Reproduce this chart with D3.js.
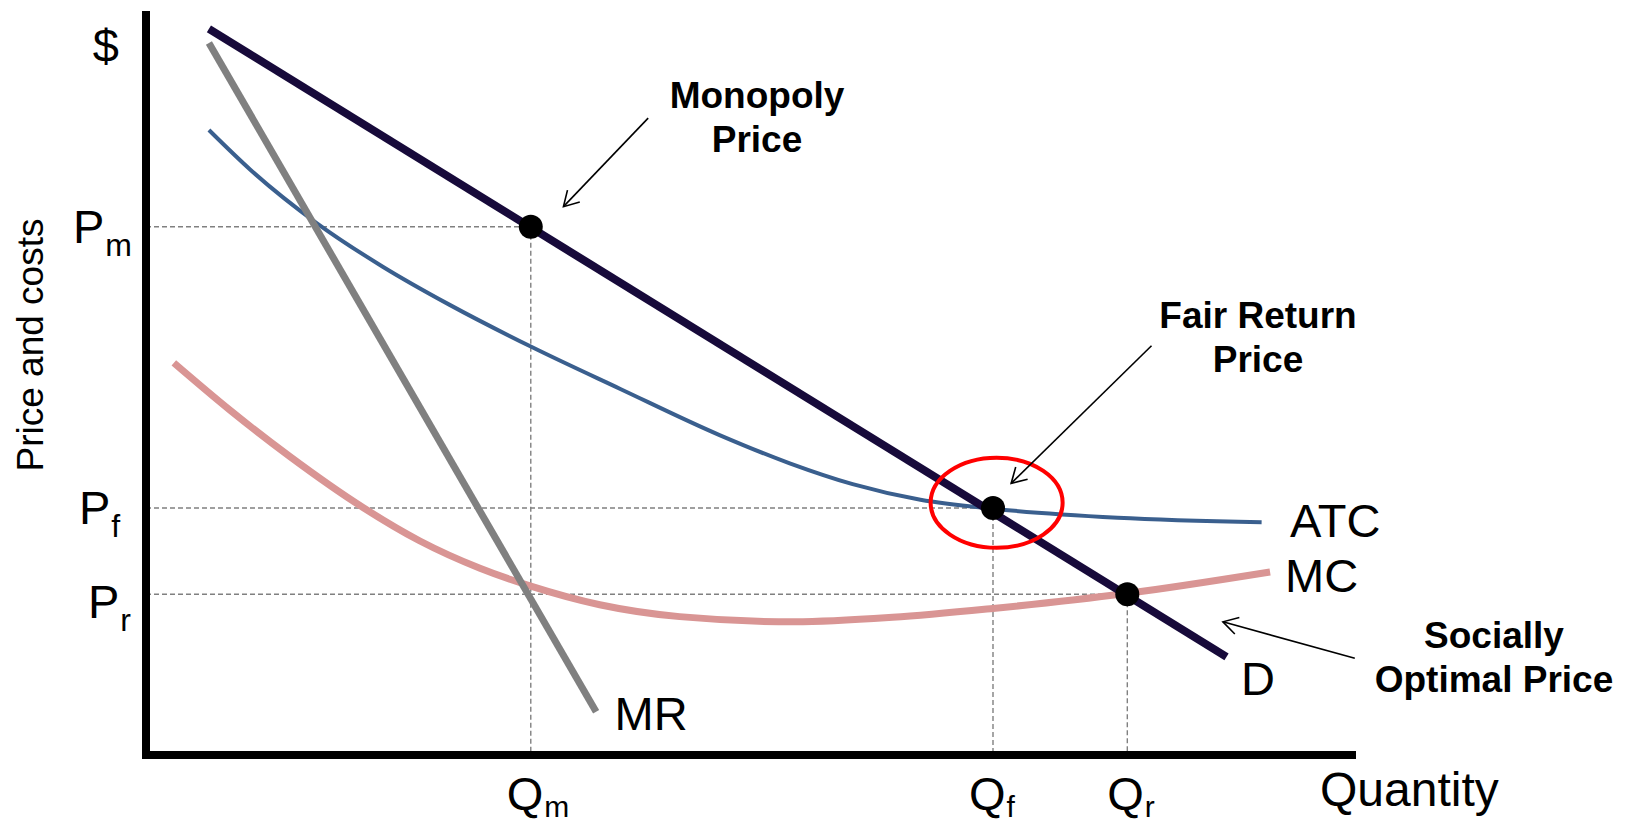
<!DOCTYPE html>
<html>
<head>
<meta charset="utf-8">
<script src="https://cdn.jsdelivr.net/npm/d3@7"></script>
<style>
  html, body { margin: 0; padding: 0; background: #ffffff; }
  svg { display: block; }
  text { font-family: "Liberation Sans", Arial, Helvetica, sans-serif; fill: #000; }
</style>
</head>
<body>
<svg id="chart" width="1632" height="824"></svg>
<script>
// ---------------- DATA ----------------
// Quantity / price units: 0..100 on both axes
const demandQ = [5.2, 89.3];
const demandP = [97.6, 13.2];

const mrQ = [5.2, 37.2];
const mrP = [95.7, 5.8];

const atcQ = [5.2, 8.6, 14.1, 19.6, 25.1, 31.8, 39.2, 47.4, 53.2, 58.4, 64.0, 70.0, 80.3, 92.2];
const atcP = [84.0, 78.7, 71.5, 65.6, 60.5, 54.9, 49.2, 43.0, 39.2, 36.4, 34.3, 33.1, 31.9, 31.3];

const mcQ = [2.3, 6.9, 11.9, 17.9, 22.6, 27.6, 31.8, 37.5, 44.1, 53.6, 61.7, 70.0, 81.0, 92.9];
const mcP = [52.7, 46.4, 40.1, 33.3, 28.8, 25.1, 22.7, 20.2, 18.6, 17.9, 18.5, 19.7, 21.7, 24.6];

// Equilibrium points: monopoly, fair return, socially optimal
const pointNames = ["m", "f", "r"];
const pointQ = [31.8, 70.0, 81.1];
const pointP = [71.0, 33.2, 21.6];

// Highlight ellipse around the fair-return point
const ringQ = [70.3];
const ringP = [33.9];

// Annotation arrows (from -> to), in data units
const arrowFromQ = [41.5, 83.1, 99.9];
const arrowFromP = [85.6, 55.0, 13.0];
const arrowToQ   = [34.5, 71.5, 89.0];
const arrowToP   = [73.7, 36.5, 17.9];

// Annotation texts
const annoLines = [["Monopoly", "Price"], ["Fair Return", "Price"], ["Socially", "Optimal Price"]];

// Curve labels
const curveLabels = ["D", "MR", "ATC", "MC"];

// Axis labels
const yTitle = "Price and costs";
const xTitle = "Quantity";
const yTop = "$";

// ---------------- DRAWING ----------------
const svg = d3.select("#chart");
const x = d3.scaleLinear().domain([0, 100]).range([146, 1356]);
const y = d3.scaleLinear().domain([0, 100]).range([755, 11]);

const zip = (a, b) => a.map((v, i) => [v, b[i]]);
const line = d3.line().x(d => x(d[0])).y(d => y(d[1]));
const smooth = d3.line().x(d => x(d[0])).y(d => y(d[1])).curve(d3.curveMonotoneX);

// Dashed guide lines
const guides = svg.append("g")
  .attr("stroke", "#808080").attr("stroke-width", 1.4)
  .attr("stroke-dasharray", "5,3").attr("fill", "none");
pointQ.forEach((q, i) => {
  guides.append("line")
    .attr("x1", x(0)).attr("x2", x(q))
    .attr("y1", y(pointP[i])).attr("y2", y(pointP[i]));
  guides.append("line")
    .attr("x1", x(q)).attr("x2", x(q))
    .attr("y1", y(pointP[i])).attr("y2", y(0));
});

// Curves
svg.append("path").datum(zip(mcQ, mcP)).attr("d", smooth)
  .attr("fill", "none").attr("stroke", "#d99594").attr("stroke-width", 7);
svg.append("path").datum(zip(atcQ, atcP)).attr("d", smooth)
  .attr("fill", "none").attr("stroke", "#3a5f8e").attr("stroke-width", 4);
svg.append("path").datum(zip(mrQ, mrP)).attr("d", line)
  .attr("fill", "none").attr("stroke", "#808080").attr("stroke-width", 7);
svg.append("path").datum(zip(demandQ, demandP)).attr("d", line)
  .attr("fill", "none").attr("stroke", "#170a3a").attr("stroke-width", 8);

// Axes (no ticks)
const axes = svg.append("g").attr("stroke", "#000").attr("stroke-width", 8);
axes.append("line").attr("x1", x(0)).attr("x2", x(0)).attr("y1", y(100)).attr("y2", y(0) + 4);
axes.append("line").attr("x1", x(0) - 4).attr("x2", x(100)).attr("y1", y(0)).attr("y2", y(0));

// Points
svg.append("g").selectAll("circle").data(pointQ).join("circle")
  .attr("cx", d => x(d)).attr("cy", (d, i) => y(pointP[i])).attr("r", 12)
  .attr("fill", "#000");

// Red ring
svg.append("g").selectAll("ellipse").data(ringQ).join("ellipse")
  .attr("cx", d => x(d)).attr("cy", (d, i) => y(ringP[i]))
  .attr("rx", 66).attr("ry", 45)
  .attr("fill", "none").attr("stroke", "#ff0000").attr("stroke-width", 4);

// Arrows
const arrows = svg.append("g").attr("stroke", "#000").attr("stroke-width", 1.6).attr("fill", "none");
arrowFromQ.forEach((q, i) => {
  const x1 = x(q), y1 = y(arrowFromP[i]), x2 = x(arrowToQ[i]), y2 = y(arrowToP[i]);
  arrows.append("line").attr("x1", x1).attr("y1", y1).attr("x2", x2).attr("y2", y2);
  const ang = Math.atan2(y1 - y2, x1 - x2);
  const L = 17, a = Math.PI / 6;
  const p1 = [x2 + L * Math.cos(ang + a), y2 + L * Math.sin(ang + a)];
  const p2 = [x2 + L * Math.cos(ang - a), y2 + L * Math.sin(ang - a)];
  arrows.append("path").attr("d", `M${p1[0]},${p1[1]} L${x2},${y2} L${p2[0]},${p2[1]}`);
});

// Annotation text (bold)
const annoX = [757, 1258, 1494];
const annoY = [108, 328, 648];
annoLines.forEach((lines, i) => {
  const t = svg.append("text").attr("text-anchor", "middle")
    .attr("font-weight", "bold").attr("font-size", 37)
    .attr("x", annoX[i]).attr("y", annoY[i]);
  lines.forEach((s, j) => {
    t.append("tspan").attr("x", annoX[i]).attr("dy", j === 0 ? 0 : 44).text(s);
  });
});

// Price labels on y axis with subscripts
const pLabelX = [73, 79, 88];
pointNames.forEach((n, i) => {
  const t = svg.append("text").attr("font-size", 47)
    .attr("x", pLabelX[i]).attr("y", y(pointP[i]) + 16 + (i === 2 ? 8 : 0));
  t.append("tspan").text("P");
  t.append("tspan").attr("font-size", 32).attr("dx", 1).attr("dy", 13).text(n);
});

// Quantity labels on x axis with subscripts
const qLabelDx = [-24, -24, -20];
pointNames.forEach((n, i) => {
  const t = svg.append("text").attr("font-size", 47)
    .attr("x", x(pointQ[i]) + qLabelDx[i]).attr("y", 810);
  t.append("tspan").text("Q");
  t.append("tspan").attr("font-size", 30).attr("dx", 1).attr("dy", 7).text(n);
});

// Axis titles
svg.append("text").attr("font-size", 47).attr("text-anchor", "middle")
  .attr("x", 105.7).attr("y", 62).text(yTop);
svg.append("text").attr("font-size", 48).attr("x", 1320).attr("y", 806).text(xTitle);
svg.append("text").attr("font-size", 37).attr("text-anchor", "middle")
  .attr("transform", "translate(43,345) rotate(-90)").text(yTitle);

// Curve labels
const clX = [1241, 614.6, 1290, 1285];
const clY = [695, 730, 537, 592];
curveLabels.forEach((s, i) => {
  svg.append("text").attr("font-size", 47).attr("x", clX[i]).attr("y", clY[i]).text(s);
});
</script>
</body>
</html>
